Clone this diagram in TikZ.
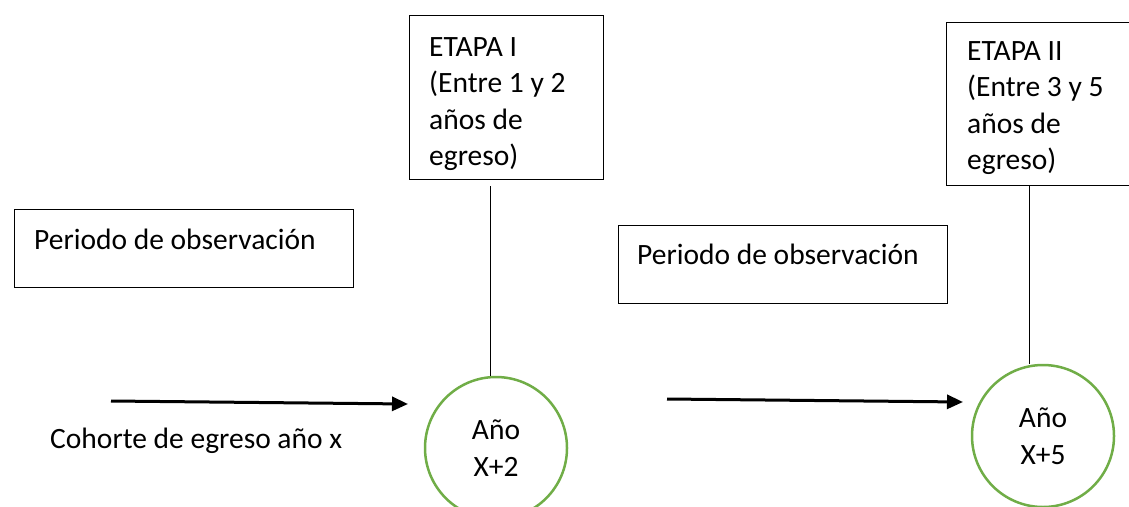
\documentclass[tikz,border=0pt]{standalone}
\usepackage{fontspec}
\setmainfont{Carlito}
\usetikzlibrary{arrows.meta}
\definecolor{ogreen}{RGB}{112,173,71}
\begin{document}
\begin{tikzpicture}[x=1pt,y=-1pt,
  box/.style={draw,line width=1pt,inner sep=0pt},
  txt/.style={font=\fontsize{29.5}{36.5}\selectfont,align=left,inner sep=0pt,anchor=north west},
  yearc/.style={draw=ogreen,line width=2.5pt,circle,minimum size=142pt,inner sep=0pt,font=\fontsize{29.5}{36.5}\selectfont,align=center},
  conn/.style={line width=1pt},
  timearrow/.style={line width=3pt,-{Triangle[length=16pt,width=14pt]}}]
\useasboundingbox (0,0) rectangle (1129,506);
\clip (0,0) rectangle (1129,506);
% stage boxes
\node[box,minimum width=194pt,minimum height=164pt] (b1) at (506,97) {};
\node[txt] (t1) at (429,37) {ETAPA I\\(Entre 1 y 2\\años de\\egreso)};
\node[box,minimum width=190pt,minimum height=163pt] (b2) at (1041,103.5) {};
\node[txt] (t2) at (967,41) {ETAPA II\\(Entre 3 y 5\\años de\\egreso)};
% observation period boxes
\node[box,minimum width=339pt,minimum height=78pt] (p1) at (183.5,248) {};
\node[txt,anchor=base west] (pt1) at (34,249) {Periodo de observación};
\node[box,minimum width=329pt,minimum height=78pt] (p2) at (782.5,264) {};
\node[txt,anchor=base west] (pt2) at (637,264) {Periodo de observación};
% year circles
\node[yearc] (c1) at (496,448) {Año\\X+2};
\node[yearc] (c2) at (1043,436) {Año\\X+5};
% connectors
\coordinate (l1) at (490,186);
\coordinate (l2) at (1029,186);
\draw[conn] (l1) -- (l1 |- c1.north);
\draw[conn] (l2) -- (l2 |- c2.north);
% arrows
\coordinate (a1s) at (111,401);
\coordinate (a1e) at (408,404);
\coordinate (a2s) at (667,399);
\coordinate (a2e) at (963,402);
\draw[timearrow] (a1s) -- (a1e);
\draw[timearrow] (a2s) -- (a2e);
% cohort label
\node[txt,anchor=west] (coh) at (50,441) {Cohorte de egreso año x};
\end{tikzpicture}
\end{document}
